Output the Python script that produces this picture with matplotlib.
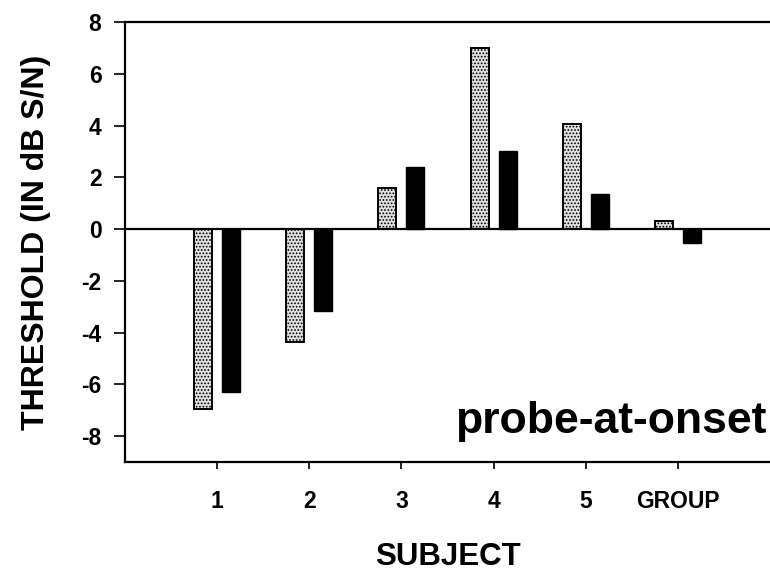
import matplotlib
matplotlib.use("Agg")
import matplotlib.pyplot as plt
import numpy as np

plt.rcParams['font.family'] = ['Liberation Sans', 'DejaVu Sans']
plt.rcParams['font.weight'] = 'bold'
plt.rcParams['hatch.color'] = '#505050'
plt.rcParams['hatch.linewidth'] = 0.8

categories = ['1', '2', '3', '4', '5', 'GROUP']
series_light = [-6.95, -4.35, 1.6, 7.0, 4.05, 0.3]
series_dark = [-6.3, -3.15, 2.4, 3.0, 1.35, -0.55]
yticks = [-8, -6, -4, -2, 0, 2, 4, 6, 8]

fig = plt.figure(figsize=(7.7, 5.72), dpi=100)
ax = fig.add_axes([125/770, 1-462/572, 645/770, (462-22)/572])

x = np.arange(1, len(categories) + 1)
w = 0.195
off = 0.152
ax.bar(x - off, series_light, width=w, facecolor='#e0e0e0', edgecolor='black',
       linewidth=1.4, hatch='.....')
ax.bar(x + off, series_dark, width=w, facecolor='black', edgecolor='black',
       linewidth=1.0)

ax.axhline(0, color='black', linewidth=1.6)

ax.set_xlim(0, 7)
ax.set_ylim(-9, 8)
ax.set_xticks(x)
ax.set_xticklabels(categories)
ax.set_yticks(yticks)
ax.set_yticklabels([str(t) for t in yticks])

for s in ['left', 'bottom', 'top']:
    ax.spines[s].set_linewidth(1.6)
ax.spines['right'].set_visible(False)

ax.tick_params(axis='y', direction='out', length=8, width=1.2, pad=9, labelsize=16.5)
ax.tick_params(axis='x', direction='out', length=5, width=1.2, pad=15, labelsize=16.5)
for lab in ax.get_xticklabels() + ax.get_yticklabels():
    lab.set_fontweight('bold')

ax.set_xlabel('SUBJECT', fontsize=22.5, fontweight='bold', labelpad=21)
ax.set_ylabel('THRESHOLD (IN dB S/N)', fontsize=23, fontweight='bold', labelpad=22)

ax.text(0.995, 0.045, 'probe-at-onset', transform=ax.transAxes, ha='right',
        va='bottom', fontsize=32, fontweight='bold')

fig.savefig('out.png', dpi=100)
